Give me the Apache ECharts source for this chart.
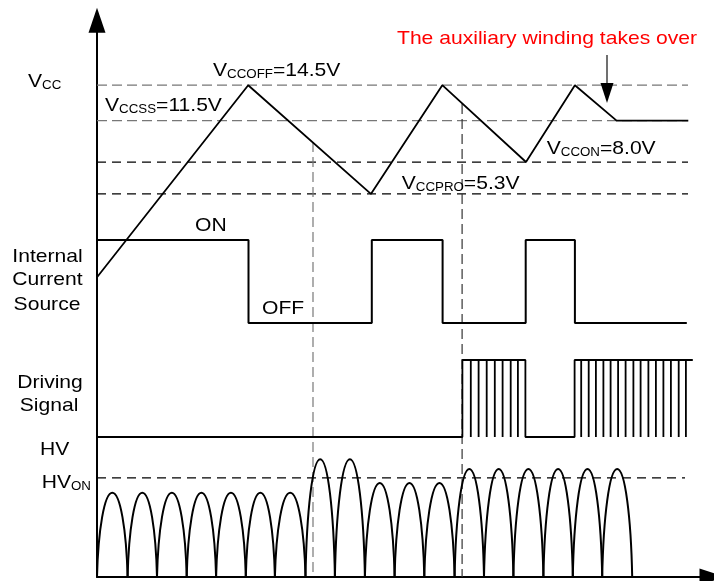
<!DOCTYPE html>
<html>
<head>
<meta charset="utf-8">
<script src="https://cdn.jsdelivr.net/npm/echarts@6/dist/echarts.min.js"></script>
<style>html,body{margin:0;padding:0;background:#fff;}#c{width:714px;height:581px;}</style>
</head>
<body>
<div id="c"></div>
<script>
// ---------- data (time in arbitrary units) ----------
const timeMax = 205;
// VCC trace (volts)
const vccTime = [0, 50.4, 91.3, 115.1, 143, 159.3, 173.2, 197.1];
const vccVolt = [-1.75, 14.5, 5.3, 14.5, 8.0, 14.5, 11.5, 11.5];
// VCC threshold levels
const levelNames = ['CCOFF', 'CCSS', 'CCON', 'CCPRO'];
const levelVolts = [14.5, 11.5, 8.0, 5.3];
const levelEnd = 197;
// Internal current source: state (1 = ON, 0 = OFF) starting at each time
const icsTime = [0, 50.5, 91.6, 115.2, 142.9, 159.3, 196.6];
const icsState = [1, 0, 1, 0, 1, 0, 0];
// Driving signal bursts
const burstStart = [121.8, 159.2];
const burstEnd = [142.8, 198.6];
const burstEndsHigh = [false, true];
const burstDips = [
  [124.6, 127.2, 129.9, 132.6, 135.2, 137.9, 140.3],
  [161.4, 163.9, 166.3, 168.8, 171.2, 173.7, 176.2, 178.8, 181.2, 183.8, 186.3, 188.8, 191.3, 193.9, 196.3]
];
// HV rectified waveform: cusp times and peak of each half-wave (HV_ON = 100)
const hvCusps = [0, 10.2, 20, 29.9, 39.7, 49.6, 59.3, 69.5, 79.3, 89.3, 99.2, 109.1, 119.2, 129, 138.8, 148.8, 158.6, 168.4, 178.4];
const hvPeaks = [85, 85, 85, 85, 85, 85, 85, 119, 119, 95, 95, 95, 109, 109, 109, 109, 109, 109];
const hvOn = 100;
const hvOnEnd = 196;
// vertical marker lines (time, VCC where they start)
const markerTime = [72, 121.7];
const markerVcc = [9.7, 12.9];
// annotation arrow (time, from VCC, to VCC)
const noteTime = 170;
const noteFrom = 17.05;
const noteTo = 13.85;

// ---------- build ----------
const vccMin = -27.1, vccMax = 20;
const FONT = "'Liberation Sans', Arial, sans-serif";

const icsData = icsTime.map((t, i) => [t, icsState[i]]);
const drvData = [[0, 0]];
burstStart.forEach((s, b) => {
  drvData.push([s, 0], [s, 1]);
  burstDips[b].forEach(d => { drvData.push([d, 1], [d, 0], [d, 1]); });
  drvData.push([burstEnd[b], 1]);
  if (!burstEndsHigh[b]) drvData.push([burstEnd[b], 0]);
});
const arcData = hvPeaks.map((p, i) => [hvCusps[i], hvCusps[i + 1], p]);

const xAxisBase = { type: 'value', min: 0, max: timeMax, show: false };
const series = [];
// levels
levelVolts.forEach((v, i) => {
  series.push({
    type: 'line', xAxisIndex: 0, yAxisIndex: 0, silent: true, symbol: 'none', z: 1,
    data: [[0, v], [levelEnd, v]],
    lineStyle: { color: i < 2 ? '#777777' : '#000000', width: 1.2, type: i < 2 ? [10, 5] : [9, 6] }
  });
});
// markers
markerTime.forEach((t, i) => {
  series.push({
    type: 'line', xAxisIndex: 0, yAxisIndex: 0, silent: true, symbol: 'none', z: 1,
    data: [[t, markerVcc[i]], [t, vccMin]],
    lineStyle: { color: i === 0 ? '#777777' : '#333333', width: 1.2, type: [10, 5] }
  });
});
// VCC trace
series.push({
  type: 'line', xAxisIndex: 0, yAxisIndex: 0, symbol: 'none', z: 3,
  data: vccTime.map((t, i) => [t, vccVolt[i]]),
  lineStyle: { color: '#000', width: 1.8 }
});
// annotation arrow
series.push({
  type: 'line', xAxisIndex: 0, yAxisIndex: 0, z: 3, showSymbol: true,
  data: [{ value: [noteTime, noteFrom], symbol: 'none' },
         { value: [noteTime, noteTo], symbol: 'triangle', symbolSize: [13, 20], symbolRotate: 180 }],
  lineStyle: { color: '#404040', width: 1.5 },
  itemStyle: { color: '#000' }
});
// internal current source
series.push({
  type: 'line', xAxisIndex: 1, yAxisIndex: 1, symbol: 'none', step: 'end', z: 3,
  data: icsData, lineStyle: { color: '#000', width: 2 }
});
// driving signal
series.push({
  type: 'line', xAxisIndex: 2, yAxisIndex: 2, symbol: 'none', z: 3,
  data: drvData, lineStyle: { color: '#000', width: 1.8 }
});
// HV_ON level
series.push({
  type: 'line', xAxisIndex: 3, yAxisIndex: 3, symbol: 'none', z: 1,
  data: [[0, hvOn], [hvOnEnd, hvOn]],
  lineStyle: { color: '#000', width: 1.2, type: [9, 6] }
});
// HV arcs (rounded half-waves, steep at the cusps)
series.push({
  type: 'custom', xAxisIndex: 3, yAxisIndex: 3, z: 3, clip: false,
  data: arcData,
  renderItem: function (params, api) {
    const s = api.value(0), e = api.value(1), h = api.value(2);
    const p0 = api.coord([s, 0]);
    const p3 = api.coord([e, 0]);
    const pk = api.coord([(s + e) / 2, h]);
    const W = p3[0] - p0[0], H = p0[1] - pk[1];
    const x0 = p0[0], y0 = p0[1];
    const a = 0.04, b = 0.56, c = 0.24;
    const d = 'M' + x0 + ' ' + y0 +
      ' C' + (x0 + a * W) + ' ' + (y0 - b * H) + ' ' + (x0 + c * W) + ' ' + (y0 - H) + ' ' + (x0 + 0.5 * W) + ' ' + (y0 - H) +
      ' C' + (x0 + (1 - c) * W) + ' ' + (y0 - H) + ' ' + (x0 + (1 - a) * W) + ' ' + (y0 - b * H) + ' ' + p3[0] + ' ' + p3[1];
    return { type: 'path', shape: { pathData: d }, style: { fill: 'none', stroke: '#000', lineWidth: 2 } };
  }
});

// ---------- text ----------
const SX = 1.11;
const rich = {
  m: { fontSize: 19, lineHeight: 20, fontFamily: FONT },
  s: { fontSize: 12, lineHeight: 13, verticalAlign: 'bottom', fontFamily: FONT }
};
function label(text, x, baseline, align, color) {
  return {
    type: 'text', x: x, y: baseline - 16.6, scaleX: SX, silent: true, z: 10,
    style: {
      text: text, rich: rich, fill: color || '#000', align: align || 'left', verticalAlign: 'top',
      fontSize: 19, lineHeight: 20, fontFamily: FONT
    }
  };
}
const graphics = [
  label('{m|The auxiliary winding takes over}', 397, 45.7, 'left', '#ff0000'),
  label('{m|V}{s|CC}', 28, 88.3),
  label('{m|V}{s|' + levelNames[0] + '}{m|=' + levelVolts[0].toFixed(1) + 'V}', 213, 77.3),
  label('{m|V}{s|' + levelNames[1] + '}{m|=' + levelVolts[1].toFixed(1) + 'V}', 105, 112.7),
  label('{m|V}{s|' + levelNames[2] + '}{m|=' + levelVolts[2].toFixed(1) + 'V}', 546.7, 155),
  label('{m|V}{s|' + levelNames[3] + '}{m|=' + levelVolts[3].toFixed(1) + 'V}', 401.7, 190),
  label('{m|ON}', 195, 232.7),
  label('{m|OFF}', 262, 315),
  label('{m|Internal}', 47.5, 263, 'center'),
  label('{m|Current}', 47.5, 286.8, 'center'),
  label('{m|Source}', 47, 311.5, 'center'),
  label('{m|Driving}', 50, 389, 'center'),
  label('{m|Signal}', 49, 412.7, 'center'),
  label('{m|HV}', 40, 456),
  label('{m|HV}{s|ON}', 41.7, 489.3)
];

const chart = echarts.init(document.getElementById('c'), null, { renderer: 'canvas' });
chart.setOption({
  animation: false,
  backgroundColor: '#fff',
  grid: [
    { left: 97, right: 2, top: 20.2, bottom: 4.1 },
    { left: 97, right: 2, top: 240, bottom: 258 },
    { left: 97, right: 2, top: 360, bottom: 144 },
    { left: 97, right: 2, top: 438.4, bottom: 4.1 }
  ],
  xAxis: [
    {
      type: 'value', gridIndex: 0, min: 0, max: timeMax,
      axisLine: { show: true, onZero: false, symbol: ['none', 'triangle'], symbolSize: [17, 25], lineStyle: { color: '#000', width: 2 } },
      axisTick: { show: false }, axisLabel: { show: false }, splitLine: { show: false }
    },
    Object.assign({ gridIndex: 1 }, xAxisBase),
    Object.assign({ gridIndex: 2 }, xAxisBase),
    Object.assign({ gridIndex: 3 }, xAxisBase)
  ],
  yAxis: [
    {
      type: 'value', gridIndex: 0, min: vccMin, max: vccMax,
      axisLine: { show: true, onZero: false, symbol: ['none', 'triangle'], symbolSize: [17, 25], lineStyle: { color: '#000', width: 2 } },
      axisTick: { show: false }, axisLabel: { show: false }, splitLine: { show: false }
    },
    { type: 'value', gridIndex: 1, min: 0, max: 1, show: false },
    { type: 'value', gridIndex: 2, min: 0, max: 1, show: false },
    { type: 'value', gridIndex: 3, min: 0, max: 140, show: false }
  ],
  series: series,
  graphic: graphics
});
</script>
</body>
</html>
